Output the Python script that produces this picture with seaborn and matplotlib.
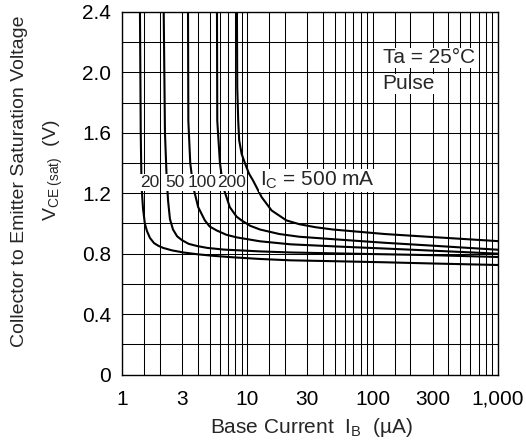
import numpy as np
import pandas as pd
import seaborn as sns
import matplotlib
matplotlib.use("Agg")
import matplotlib.pyplot as plt
from matplotlib.ticker import FixedLocator, NullFormatter

# Collector current curves
ic_labels = ["20", "50", "100", "200", "500"]

ib_20 = [1.39, 1.41, 1.43, 1.47, 1.52, 1.58, 1.67, 1.8, 1.95, 2.13, 2.5, 3.08, 4.0, 5.3, 8, 12.6, 22, 50, 125, 300, 1000]
v_20 = [2.4, 1.6, 1.25, 1.1, 1.0, 0.95, 0.904, 0.87, 0.852, 0.838, 0.822, 0.808, 0.796, 0.786, 0.775, 0.765, 0.756, 0.75, 0.743, 0.735, 0.725]

ib_50 = [2.15, 2.2, 2.27, 2.33, 2.41, 2.55, 2.75, 3.0, 3.4, 4.0, 4.8, 6.5, 12.6, 22, 50, 125, 300, 1000]
v_50 = [2.4, 1.6, 1.3, 1.15, 1.03, 0.96, 0.915, 0.89, 0.865, 0.85, 0.838, 0.827, 0.815, 0.808, 0.802, 0.796, 0.79, 0.778]

ib_100 = [3.36, 3.38, 3.5, 3.7, 4.05, 4.58, 5.0, 5.68, 6.8, 8.2, 12.6, 22, 50, 125, 300, 1000]
v_100 = [2.4, 1.68, 1.4, 1.24, 1.108, 1.02, 0.98, 0.954, 0.925, 0.908, 0.882, 0.862, 0.848, 0.834, 0.82, 0.80]

ib_200 = [5.72, 5.75, 6.04, 6.41, 7.24, 8.2, 9.0, 10.5, 12.6, 18, 26, 50, 125, 300, 1000]
v_200 = [2.4, 1.68, 1.4, 1.24, 1.108, 1.045, 1.02, 0.985, 0.96, 0.93, 0.912, 0.895, 0.872, 0.853, 0.826]

ib_500 = [8.25, 8.3, 8.45, 8.6, 9.0, 9.55, 10.3, 11.1, 13.0, 15.6, 20.5, 26, 35, 48, 125, 300, 1000]
v_500 = [2.4, 1.9, 1.68, 1.55, 1.46, 1.4, 1.33, 1.284, 1.174, 1.086, 1.02, 0.995, 0.975, 0.96, 0.93, 0.91, 0.883]

x_ticks = [1, 3, 10, 30, 100, 300, 1000]
x_ticklabels = ["1", "3", "10", "30", "100", "300", "1,000"]
y_ticks = [0, 0.4, 0.8, 1.2, 1.6, 2.0, 2.4]
y_ticklabels = ["0", "0.4", "0.8", "1.2", "1.6", "2.0", "2.4"]

frames = []
for name, xs, ys in zip(ic_labels,
                        [ib_20, ib_50, ib_100, ib_200, ib_500],
                        [v_20, v_50, v_100, v_200, v_500]):
    frames.append(pd.DataFrame({"ib": xs, "vce": ys, "ic": name}))
df = pd.concat(frames, ignore_index=True)

sns.set_style("white")
plt.rcParams["font.family"] = ["Liberation Sans", "DejaVu Sans"]
plt.rcParams["mathtext.fontset"] = "custom"
plt.rcParams["mathtext.rm"] = "Liberation Sans"
plt.rcParams["mathtext.it"] = "Liberation Sans"

fig = plt.figure(figsize=(5.26, 4.44), dpi=100)
ax = fig.add_axes([0.232, 0.1565, 0.715, 0.8165])

sns.lineplot(data=df, x="ib", y="vce", hue="ic", palette=["black"] * 5,
             estimator=None, sort=False, legend=False, linewidth=1.5, ax=ax)

ax.set_xscale("log")
ax.set_xlim(1, 1000)
ax.set_ylim(0, 2.4)

# grid: 1.5, 2..9 in every decade, 0.2 V steps
minor_x = [m * 10 ** d for d in range(3) for m in [1.5, 2, 3, 4, 5, 6, 7, 8, 9]]
ax.xaxis.set_major_locator(FixedLocator(x_ticks))
ax.xaxis.set_minor_locator(FixedLocator(minor_x + [10, 100]))
ax.xaxis.set_minor_formatter(NullFormatter())
ax.set_xticklabels(x_ticklabels)
ax.set_yticks(y_ticks)
ax.set_yticklabels(y_ticklabels)
ax.yaxis.set_minor_locator(FixedLocator(np.arange(0.2, 2.4, 0.4)))
ax.grid(True, which="both", color="black", linewidth=0.75)
ax.tick_params(which="both", length=0, labelsize=15, colors="black")
ax.tick_params(axis="x", pad=11)
ax.tick_params(axis="y", pad=8)
ax.set_xlabel("")
ax.set_ylabel("")
for s in ax.spines.values():
    s.set_color("black")
    s.set_linewidth(1.0)

box = dict(facecolor="white", edgecolor="none", pad=0.5)
narrow = ["Liberation Sans Narrow", "Liberation Sans"]
for txt, xv in zip(ic_labels[:4], [1.67, 2.64, 4.34, 7.52]):
    ax.text(xv, 1.27, txt, ha="center", va="center", fontsize=12.5,
            family=narrow, bbox=box, zorder=5)
ax.text(12.6, 1.284, r"I$_\mathrm{C}$ = 500 mA", ha="left", va="center",
        fontsize=15, bbox=box, zorder=5)
ax.text(120, 2.096, "Ta = 25\u00b0C", ha="left", va="center", fontsize=15,
        bbox=box, zorder=5)
ax.text(120, 1.924, "Pulse", ha="left", va="center", fontsize=15,
        bbox=box, zorder=5)

fig.text(0.038, 0.592, "Collector to Emitter Saturation Voltage", rotation=90,
         ha="center", va="center", fontsize=14)
fig.text(0.1008, 0.617, r"V$_\mathrm{CE\ (sat)}$  (V)", rotation=90,
         ha="center", va="center", fontsize=14)
fig.text(0.5926, 0.038, "Base Current  I$_\\mathrm{B}$  (\u00b5A)",
         ha="center", va="center", fontsize=15)

fig.savefig("out.png", dpi=100)
